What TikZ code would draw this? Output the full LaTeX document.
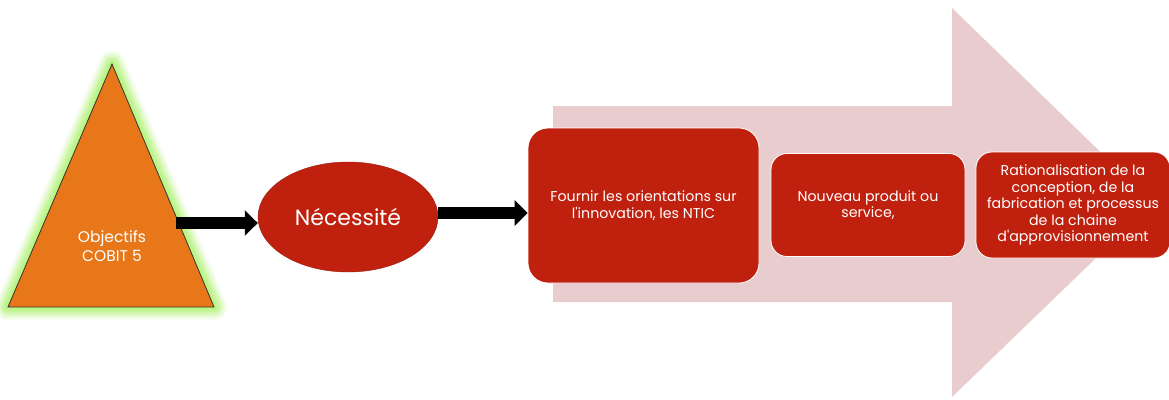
\documentclass[tikz,border=0pt]{standalone}
\usepackage{fontspec}
\setmainfont{Poppins}[Ligatures=TeXOff]
\usetikzlibrary{arrows.meta,shapes.geometric}
\definecolor{cobitorange}{HTML}{E8771A}
\definecolor{deepred}{HTML}{C0200E}
\definecolor{pinkband}{HTML}{E9CDCE}
\definecolor{glowgreen}{HTML}{B6F57E}
\tikzset{
  x=1pt, y=-1pt,
  blockarrow/.style={line width=12pt, draw=black,
    -{Triangle[length=13pt,width=25pt]}},
  stepbox/.style={fill=deepred, draw=white, line width=0.8pt,
    rounded corners=16pt, text=white, align=center,
    font=\fontsize{14.2}{16.5}\selectfont, inner sep=2pt},
}
\begin{document}
\begin{tikzpicture}
\useasboundingbox (0,0) rectangle (1169,399);
\fill[white] (0,0) rectangle (1169,399);

% soft green halo around the pyramid
\foreach \w/\o in {26/0.12,22/0.16,18/0.22,14/0.32,10/0.45,6/0.6}{
  \draw[glowgreen, line width=\w pt, line join=round, opacity=\o]
    (112,64) -- (214,307) -- (8,307) -- cycle;
}
% pyramid
\filldraw[fill=cobitorange, draw=black!80, line width=0.8pt, line join=miter]
  (112,64) -- (214,307) -- (8,307) -- cycle;
\node[text=white, align=center, font=\fontsize{15.5}{19}\selectfont] (obj) at (112,246)
  {Objectifs\\COBIT 5};
\coordinate (triR) at (176,223);

% large background band arrow
\fill[pinkband] (553,106) -- (952,106) -- (952,8) -- (1153,203)
  -- (952,397) -- (952,302) -- (553,302) -- cycle;

% ellipse
\node[ellipse, fill=deepred, draw=deepred!80!black, line width=0.4pt,
  minimum width=180pt, minimum height=110pt, inner sep=0pt,
  text=white, font=\fontsize{22}{26}\selectfont] (ell) at (348,217) {Nécessité};

% step boxes
\node[stepbox, minimum width=231pt, minimum height=155pt, rounded corners=20pt]
  (box1) at (643.5,205.5) {Fournir les orientations sur\\l'innovation, les NTIC};
\node[stepbox, minimum width=194pt, minimum height=103pt]
  (box2) at (868,205) {Nouveau produit ou\\service,};
\node[stepbox, minimum width=194pt, minimum height=106pt]
  (box3) at (1073,205) {Rationalisation de la\\conception, de la\\fabrication et processus\\de la chaine\\d'approvisionnement};

% connectors
\draw[blockarrow] (triR) -- (ell.west |- triR);
\coordinate (ellR) at ([yshift=4pt]ell.east);
\draw[blockarrow] (ellR) -- (box1.west |- ellR);
\end{tikzpicture}
\end{document}
